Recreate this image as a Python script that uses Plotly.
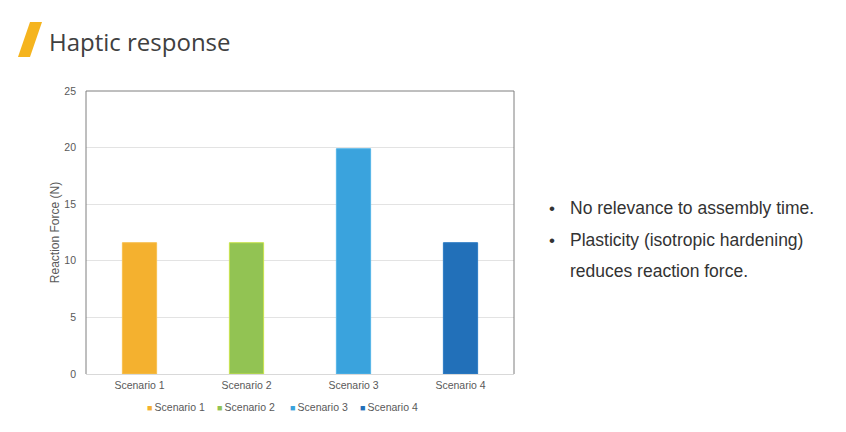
import plotly.graph_objects as go

categories = ["Scenario 1", "Scenario 2", "Scenario 3", "Scenario 4"]
values = [11.6, 11.6, 19.9, 11.6]
colors = ["#F4B12F", "#92C353", "#3AA3DD", "#2270B9"]
edge_colors = ["#F7C050", "#C8E34E", "#55B5E8", "#2C7CC4"]
y_ticks = [0, 5, 10, 15, 20, 25]
title_text = "Haptic response"
bullets = ["No relevance to assembly time.", "Plasticity (isotropic hardening)", "reduces reaction force."]
legend_x = [145, 215, 288, 358]

# page body has an 8px margin; work in target pixel coords and compensate
OFF = 8
W, H = 846 - OFF, 432 - OFF
L, R, T, B = 86, 514, 91, 374

def px(x):
    return (x - L) / (R - L)

def py(y):
    return (B - y) / (B - T)

fig = go.Figure()
for c, v, col, ec in zip(categories, values, colors, edge_colors):
    fig.add_trace(go.Bar(x=[c], y=[v], name=c, width=0.32,
                         marker=dict(color=col, line=dict(color=ec, width=1))))

fig.update_layout(
    width=W, height=H,
    margin=dict(l=L - OFF, r=846 - R, t=T - OFF, b=432 - B),
    paper_bgcolor="white", plot_bgcolor="white",
    barmode="overlay",
    showlegend=False,
    xaxis=dict(categoryorder="array", categoryarray=categories, showgrid=False,
               tickfont=dict(family="Arial, Liberation Sans", size=10.5, color="#595959"),
               showline=False, ticks="", ticklabelstandoff=3),
    yaxis=dict(range=[0, 25], tickvals=y_ticks, showgrid=True, gridcolor="#E3E3E3",
               gridwidth=1, zeroline=True, zerolinecolor="#D9D9D9", zerolinewidth=1,
               tickfont=dict(family="Arial, Liberation Sans", size=10.5, color="#595959"),
               ticks="", ticklabelstandoff=9,
               title=dict(text="Reaction Force (N)", standoff=2,
                          font=dict(family="Arial, Liberation Sans", size=12, color="#595959"))),
    font=dict(family="Arial, Liberation Sans"),
)

# chart frame (left, top, right)
fig.add_shape(type="path", xref="paper", yref="paper",
              path="M 0 0 L 0 1 L 1 1 L 1 0",
              line=dict(color="#7F7F7F", width=1))

# yellow slash
fig.add_shape(type="path", xref="paper", yref="paper",
              path=f"M {px(18)} {py(57)} L {px(30)} {py(57)} L {px(42)} {py(22)} L {px(30)} {py(22)} Z",
              fillcolor="#F5B41E", line=dict(width=0))

fig.add_annotation(text=title_text, xref="paper", yref="paper", x=px(47), y=py(41),
                   xanchor="left", yanchor="middle", showarrow=False,
                   font=dict(family="Open Sans, Noto Sans", size=24, color="#404040"))

# legend drawn as text
for c, col, lx in zip(categories, colors, legend_x):
    fig.add_annotation(text=f"<span style='color:{col};font-size:9px'>■</span>\u2009{c}",
                       xref="paper", yref="paper",
                       x=px(lx), y=py(407), xanchor="left", yanchor="middle", showarrow=False,
                       font=dict(family="Arial, Liberation Sans", size=10.5, color="#595959"))

for i, (txt, yy) in enumerate(zip(bullets, [208, 240, 271])):
    if i < 2:
        fig.add_annotation(text="•", xref="paper", yref="paper", x=px(547), y=py(yy),
                           xanchor="left", yanchor="middle", showarrow=False,
                           font=dict(family="Arial, Liberation Sans", size=17, color="#333333"))
    fig.add_annotation(text=txt, xref="paper", yref="paper", x=px(568), y=py(yy),
                       xanchor="left", yanchor="middle", showarrow=False,
                       font=dict(family="Arial, Liberation Sans", size=17.5, color="#333333"))

fig.write_html("out.html")
